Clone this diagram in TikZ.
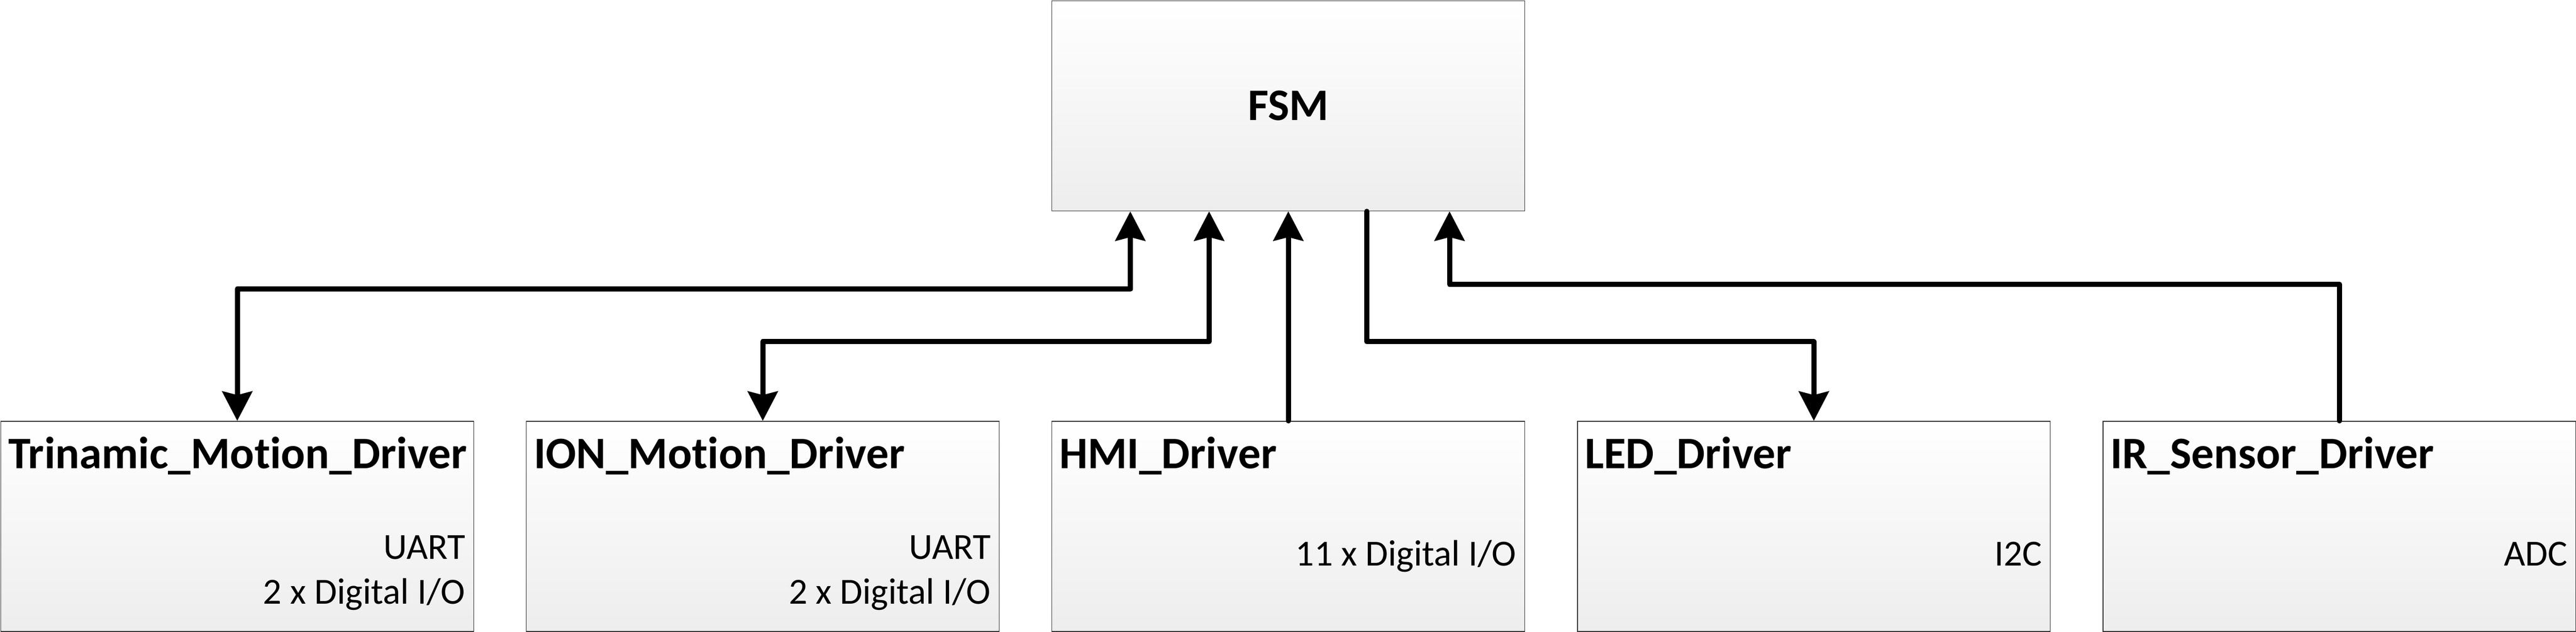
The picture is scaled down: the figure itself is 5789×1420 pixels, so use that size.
\documentclass[tikz,border=0pt]{standalone}
\usepackage{fontspec}
\setmainfont{Carlito}[Ligatures=NoCommon]
\usetikzlibrary{arrows.meta}

\tikzset{
	block/.style={draw=black!80, line width=0.5pt, top color=white, bottom color=black!7, minimum width=10.62cm, minimum height=4.72cm, inner sep=0pt, anchor=north west},
	drvname/.style={anchor=base west, inner sep=0pt, font=\fontsize{28.8}{34}\selectfont\bfseries},
	iface/.style={anchor=base east, inner sep=0pt, font=\fontsize{23.5}{28}\selectfont},
	wire/.style={line width=3.3pt, line join=round, line cap=round},
}

\begin{document}
\begin{tikzpicture}[x=0.01cm, y=-0.01cm, >={Stealth[length=6.6mm, width=6.7mm, inset=0.8mm]}]
		\path[use as bounding box] (0,0) rectangle (5789,1420);

		\node[block, font=\fontsize{28.8}{34}\selectfont\bfseries] (fsm) at (2363,1) {FSM};

		\node[block] (tri) at (1,946) {};
		\node[block] (ion) at (1182,946) {};
		\node[block] (hmi) at (2363,946) {};
		\node[block] (led) at (3544,946) {};
		\node[block] (ir) at (4725,946) {};

		\node[drvname] (tri-t) at ([shift={(17,107)}]tri.north west) {Trinamic\_Motion\_Driver};
		\node[drvname] (ion-t) at ([shift={(17,107)}]ion.north west) {ION\_Motion\_Driver};
		\node[drvname] (hmi-t) at ([shift={(17,107)}]hmi.north west) {HMI\_Driver};
		\node[drvname] (led-t) at ([shift={(17,107)}]led.north west) {LED\_Driver};
		\node[drvname] (ir-t) at ([shift={(17,107)}]ir.north west) {IR\_Sensor\_Driver};

		\node[iface] (tri-a) at ([shift={(-19,311)}]tri.north east) {UART};
		\node[iface] (tri-b) at ([shift={(-19,411)}]tri.north east) {2 x Digital I/O};
		\node[iface] (ion-a) at ([shift={(-19,311)}]ion.north east) {UART};
		\node[iface] (ion-b) at ([shift={(-19,411)}]ion.north east) {2 x Digital I/O};
		\node[iface] (hmi-a) at ([shift={(-19,326)}]hmi.north east) {11 x Digital I/O};
		\node[iface] (led-a) at ([shift={(-19,326)}]led.north east) {I2C};
		\node[iface] (ir-a) at ([shift={(-19,326)}]ir.north east) {ADC};

		% ports on the FSM and levels of the horizontal runs
		\coordinate (p1) at ([xshift=1.77cm]fsm.south west);
		\coordinate (p2) at ([xshift=3.54cm]fsm.south west);
		\coordinate (p4) at ([xshift=7.08cm]fsm.south west);
		\coordinate (p5) at ([xshift=8.94cm]fsm.south west);
		\coordinate (lvlA) at (0,639);
		\coordinate (lvlB) at (0,650);
		\coordinate (lvlC) at (0,768);

		\draw[wire, <->] (tri.north) -- (tri.north |- lvlB) -- (p1 |- lvlB) -- (p1);
		\draw[wire, <->] (ion.north) -- (ion.north |- lvlC) -- (p2 |- lvlC) -- (p2);
		\draw[wire, ->] (hmi.north) -- (fsm.south);
		\draw[wire, ->] (p4) -- (p4 |- lvlC) -- (led.north |- lvlC) -- (led.north);
		\draw[wire, ->] (ir.north) -- (ir.north |- lvlA) -- (p5 |- lvlA) -- (p5);

\end{tikzpicture}
\end{document}
